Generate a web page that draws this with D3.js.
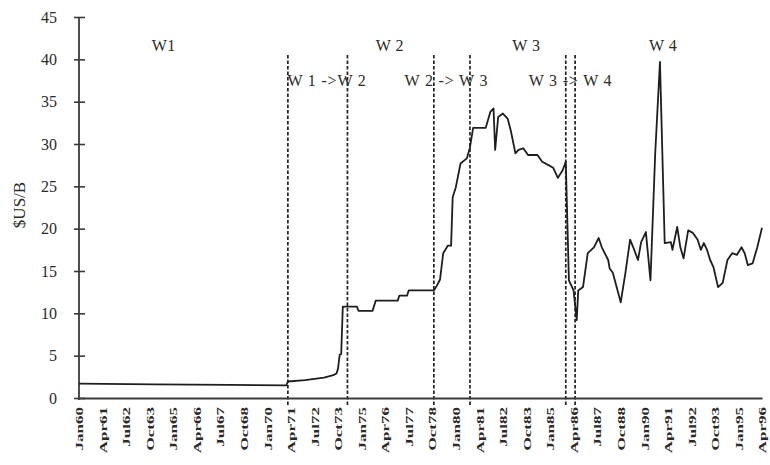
<!DOCTYPE html>
<html>
<head>
<meta charset="utf-8">
<script src="https://cdn.jsdelivr.net/npm/d3@7"></script>
<style>
  html, body { margin: 0; padding: 0; background: #fff; }
  svg { display: block; }
  text { font-family: "Liberation Serif", "Times New Roman", serif; fill: #2a2a2a; }
</style>
</head>
<body>
<svg id="chart" width="770" height="465"></svg>
<script>
// ---- data ----
const dates = [
  "1960-01","1964-01","1968-01","1971-01","1971-02","1972-01","1973-01","1973-07","1973-09","1973-10",
  "1973-11","1973-12","1974-01","1974-10","1974-11","1975-08","1975-10","1976-12","1977-01","1977-06",
  "1977-07","1978-11","1979-01","1979-03","1979-05","1979-08","1979-10","1979-11","1980-01","1980-04",
  "1980-08","1980-10","1980-12","1981-08","1981-11","1982-01","1982-02","1982-04","1982-07","1982-10",
  "1982-12","1983-03","1983-05","1983-08","1983-11","1984-05","1984-08","1984-12","1985-03","1985-06",
  "1985-09","1985-11","1986-01","1986-04","1986-05","1986-06","1986-07","1986-10","1987-01","1987-05",
  "1987-08","1987-10","1988-02","1988-03","1988-05","1988-10","1989-01","1989-04","1989-06","1989-09",
  "1989-11","1990-02","1990-05","1990-08","1990-11","1991-02","1991-06","1991-07","1991-10","1991-12",
  "1992-02","1992-05","1992-08","1992-11","1993-01","1993-03","1993-05","1993-07","1993-09","1993-12",
  "1994-03","1994-06","1994-09","1994-12","1995-03","1995-05","1995-07","1995-10","1996-01","1996-04"
];
const prices = [
  1.70,1.62,1.55,1.48,1.95,2.10,2.40,2.70,2.90,3.50,
  5.10,5.20,10.8,10.8,10.3,10.3,11.5,11.5,12.1,12.1,
  12.7,12.7,13.3,14.0,17.1,18.0,18.0,23.7,24.9,27.7,
  28.3,29.6,31.9,31.9,33.8,34.2,29.3,33.2,33.6,33.0,
  31.6,28.9,29.3,29.5,28.7,28.7,27.9,27.5,27.2,26.0,
  26.9,27.9,13.9,12.7,11.0,9.2,12.7,13.1,17.1,17.8,
  18.9,17.8,16.3,15.3,14.8,11.3,14.8,18.7,17.8,16.3,
  18.4,19.6,13.9,28.9,39.7,18.3,18.4,17.5,20.2,17.8,
  16.5,19.8,19.5,18.7,17.5,18.3,17.5,16.3,15.5,13.1,
  13.6,16.3,17.1,16.9,17.8,17.1,15.7,15.9,17.8,20.1
];
const yTicks = [0,5,10,15,20,25,30,35,40,45];
const xTickLabels = ["Jan60","Apr61","Jul62","Oct63","Jan65","Apr66","Jul67","Oct68","Jan70","Apr71",
  "Jul72","Oct73","Jan75","Apr76","Jul77","Oct78","Jan80","Apr81","Jul82","Oct83",
  "Jan85","Apr86","Jul87","Oct88","Jan90","Apr91","Jul92","Oct93","Jan95","Apr96"];
const breakDates = ["1971-02","1974-04","1978-11","1980-10","1985-11","1986-05"];
const regimeLabels = ["W1","W 2","W 3","W 4"];
const regimeDates = ["1964-07","1976-07","1983-10","1991-01"];
const transLabels = ["W 1 ->W 2","W 2 -> W 3","W 3 -> W 4"];
const transDates = ["1973-03","1979-07","1986-02"];
const yLabel = "$US/B";

// ---- chart ----
const parseYM = d3.timeParse("%Y-%m");
const parseLbl = d3.timeParse("%b%y");
const fixYear = d => { const dt = parseLbl(d); if (dt.getFullYear() > 2000) dt.setFullYear(dt.getFullYear() - 100); return dt; };

const svg = d3.select("#chart");
const x = d3.scaleTime().domain([parseYM("1960-01"), parseYM("1996-04")]).range([79, 762]);
const y = d3.scaleLinear().domain([0, 45]).range([398, 17]);

const axisColor = "#3a3a3a";

// dashed break lines
svg.append("g").selectAll("line").data(breakDates).join("line")
  .attr("x1", d => x(parseYM(d))).attr("x2", d => x(parseYM(d)))
  .attr("y1", 55).attr("y2", 406)
  .attr("stroke", "#222").attr("stroke-width", 1.7)
  .attr("stroke-dasharray", "3.5,2");

// y axis
const yAxis = d3.axisLeft(y).tickValues(yTicks).tickSize(6).tickPadding(16);
const gy = svg.append("g").attr("transform", "translate(79,0)").call(yAxis);
gy.select(".domain").remove();
gy.selectAll(".tick line").attr("x1", -5).attr("x2", 6).attr("stroke", axisColor).attr("stroke-width", 1.6);
gy.selectAll(".tick text").attr("font-size", 16).attr("font-family", "Liberation Serif").attr("fill", "#333");
svg.append("line").attr("x1", 79).attr("x2", 79).attr("y1", 17).attr("y2", 400)
  .attr("stroke", axisColor).attr("stroke-width", 1.8);

// x axis
const xAxis = d3.axisBottom(x).tickValues(xTickLabels.map(fixYear)).tickSize(0).tickFormat(d3.timeFormat("%b%y"));
const gx = svg.append("g").attr("transform", "translate(0,398)").call(xAxis);
gx.select(".domain").attr("stroke", axisColor).attr("stroke-width", 2);
gx.selectAll(".tick text")
  .attr("font-size", 17).attr("font-weight", "bold").attr("font-family", "Liberation Serif").attr("fill", "#222")
  .attr("text-anchor", "end").attr("y", 0).attr("dy", 0)
  .attr("transform", "translate(0,9) rotate(-90) scale(1,0.62) translate(0,6)");

// price line
const pts = dates.map((d, i) => [parseYM(d), prices[i]]);
const line = d3.line().x(d => x(d[0])).y(d => y(d[1]));
svg.append("path").datum(pts).attr("d", line)
  .attr("fill", "none").attr("stroke", "#1e1e1e").attr("stroke-width", 1.8).attr("stroke-linejoin", "round");

// labels
svg.append("g").selectAll("text").data(regimeLabels).join("text")
  .attr("x", (d, i) => x(parseYM(regimeDates[i]))).attr("y", 51)
  .attr("text-anchor", "middle").attr("font-size", 16).attr("letter-spacing", 0.5).text(d => d);
svg.append("g").selectAll("text").data(transLabels).join("text")
  .attr("x", (d, i) => x(parseYM(transDates[i]))).attr("y", 86)
  .attr("text-anchor", "middle").attr("font-size", 16).attr("letter-spacing", 0.8).text(d => d);

svg.append("text").attr("transform", "translate(25,205) rotate(-90)")
  .attr("text-anchor", "middle").attr("font-size", 17).text(yLabel);
</script>
</body>
</html>
